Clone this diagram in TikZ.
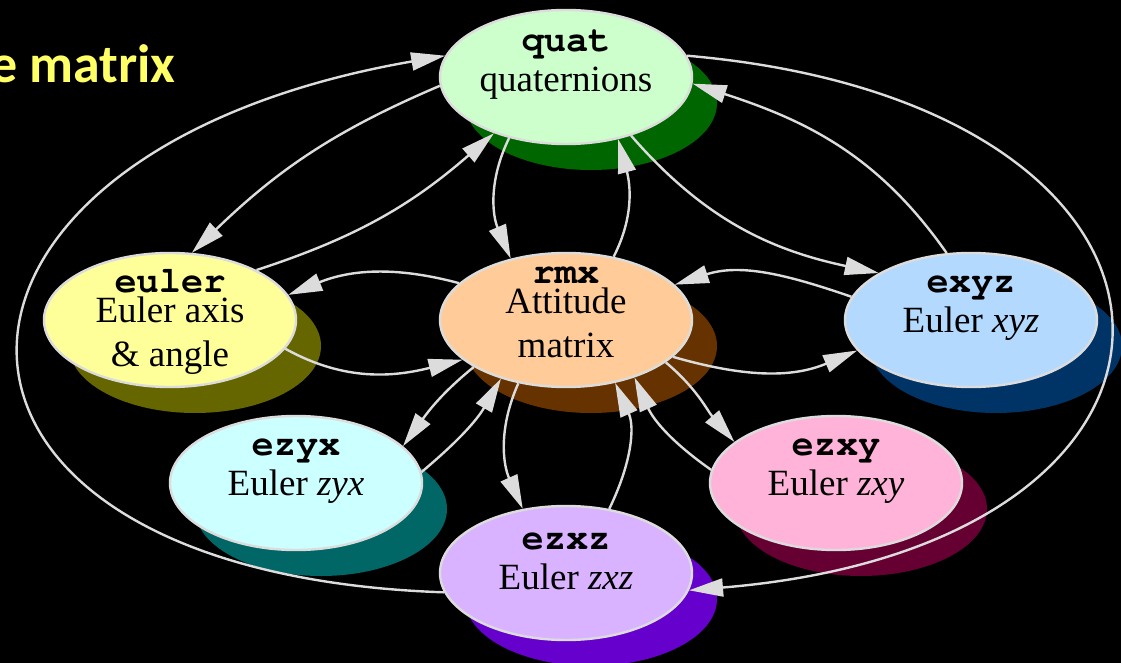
\documentclass[tikz,border=0pt]{standalone}
\usepackage[T1]{fontenc}
\usepackage{fontspec}
\setmainfont{Liberation Serif}
\newfontfamily\titlefont{Carlito}
\usetikzlibrary{shapes.geometric,shadows,arrows.meta}

\definecolor{linegray}{HTML}{DCDCDC}
\definecolor{titleyellow}{HTML}{FFFF66}
\definecolor{quatfill}{HTML}{CCFFCC}   \definecolor{quatshade}{HTML}{006600}
\definecolor{eulerfill}{HTML}{FFFF99}  \definecolor{eulershade}{HTML}{666600}
\definecolor{rmxfill}{HTML}{FFCC99}    \definecolor{rmxshade}{HTML}{663300}
\definecolor{exyzfill}{HTML}{B3D9FF}   \definecolor{exyzshade}{HTML}{003366}
\definecolor{ezyxfill}{HTML}{CCFFFF}   \definecolor{ezyxshade}{HTML}{006666}
\definecolor{ezxyfill}{HTML}{FFB3D9}   \definecolor{ezxyshade}{HTML}{660033}
\definecolor{ezxzfill}{HTML}{D9B3FF}   \definecolor{ezxzshade}{HTML}{6600CC}

% function names in bold Courier
\newcommand\fn[1]{{\fontencoding{T1}\fontfamily{pcr}\fontseries{b}\fontshape{n}\selectfont #1}}

\tikzset{
  ell/.style={ellipse, draw=linegray, line width=2.4pt, inner sep=0pt,
    minimum width=252pt, minimum height=134pt},
  shadowed/.style={drop shadow={shadow xshift=25pt, shadow yshift=-26pt,
    fill=#1, opacity=1}},
  txt/.style={align=center, inner sep=0pt, text=black,
    font=\fontsize{37}{40}\selectfont},
  link/.style={draw=linegray, line width=2.4pt,
    -{Triangle[length=34pt,width=18pt]}},
}

\begin{document}
\begin{tikzpicture}[x=1pt,y=1pt]
  \useasboundingbox (0,0) rectangle (1121,-663);
  \fill[black] (0,0) rectangle (1121,-663);

  \node[anchor=base west, inner sep=0pt, text=titleyellow,
    font=\titlefont\bfseries\fontsize{54}{60}\selectfont] (title) at (-10,-83) {e matrix};

  \node[ell, fill=quatfill, shadowed=quatshade,
    label={[txt, yshift=12pt]center:\fn{quat}\\quaternions}] (quat) at (566,-77) {};
  \node[ell, fill=eulerfill, shadowed=eulershade,
    label={[txt, yshift=-2pt]center:\fn{euler}\\[-10pt]Euler axis\\[4pt]\& angle}] (euler) at (170,-320) {};
  \node[ell, fill=rmxfill, shadowed=rmxshade,
    label={[txt, yshift=8pt]center:\fn{rmx}\\[-10pt]Attitude\\[4pt]matrix}] (rmx) at (566,-320) {};
  \node[ell, fill=exyzfill, shadowed=exyzshade,
    label={[txt, yshift=12pt]center:\fn{exyz}\\Euler \textit{xyz}}] (exyz) at (971,-320) {};
  \node[ell, fill=ezyxfill, shadowed=ezyxshade,
    label={[txt, yshift=12pt]center:\fn{ezyx}\\Euler \textit{zyx}}] (ezyx) at (296,-483) {};
  \node[ell, fill=ezxyfill, shadowed=ezxyshade,
    label={[txt, yshift=12pt]center:\fn{ezxy}\\Euler \textit{zxy}}] (ezxy) at (836,-483) {};
  \node[ell, fill=ezxzfill, shadowed=ezxzshade,
    label={[txt, yshift=12pt]center:\fn{ezxz}\\Euler \textit{zxz}}] (ezxz) at (566,-573) {};

  % conversions to and from quat
  \draw[link] (euler.30) to[out=18,in=221] (quat.218);
  \draw[link] (quat.184) to[out=203,in=44] (euler.72);
  \draw[link] (ezxz.189) .. controls (-125,-573) and (-116,-153) .. (quat.170);
  \draw[link] (quat.10) .. controls (1246,-104) and (1251,-544) .. (ezxz.352);
  \draw[link] (exyz.110) to[out=125,in=342] (quat.357);
  \draw[link] (quat.318) to[out=311,in=168] (exyz.153);
  \draw[link] (quat.227) to[out=244,in=113] (rmx.132);
  \draw[link] (rmx.53) to[out=63,in=285] (quat.310);

  % conversions to and from rmx
  \draw[link] (rmx.161) to[out=165,in=22] (euler.12);
  \draw[link] (euler.346) to[out=331,in=194] (rmx.201);
  \draw[link] (exyz.169) to[out=161,in=18] (rmx.18);
  \draw[link] (rmx.341) to[out=344,in=203] (exyz.195);
  \draw[link] (rmx.207) to[out=219,in=54] (ezyx.19);
  \draw[link] (ezyx.5) to[out=40,in=240] (rmx.222);
  \draw[link] (rmx.233) to[out=246,in=114] (ezxz.124);
  \draw[link] (ezxz.56) to[out=64,in=294] (rmx.308);
  \draw[link] (ezxy.174) to[out=145,in=294] (rmx.320);
  \draw[link] (rmx.337) to[out=320,in=131] (ezxy.158);
\end{tikzpicture}
\end{document}
